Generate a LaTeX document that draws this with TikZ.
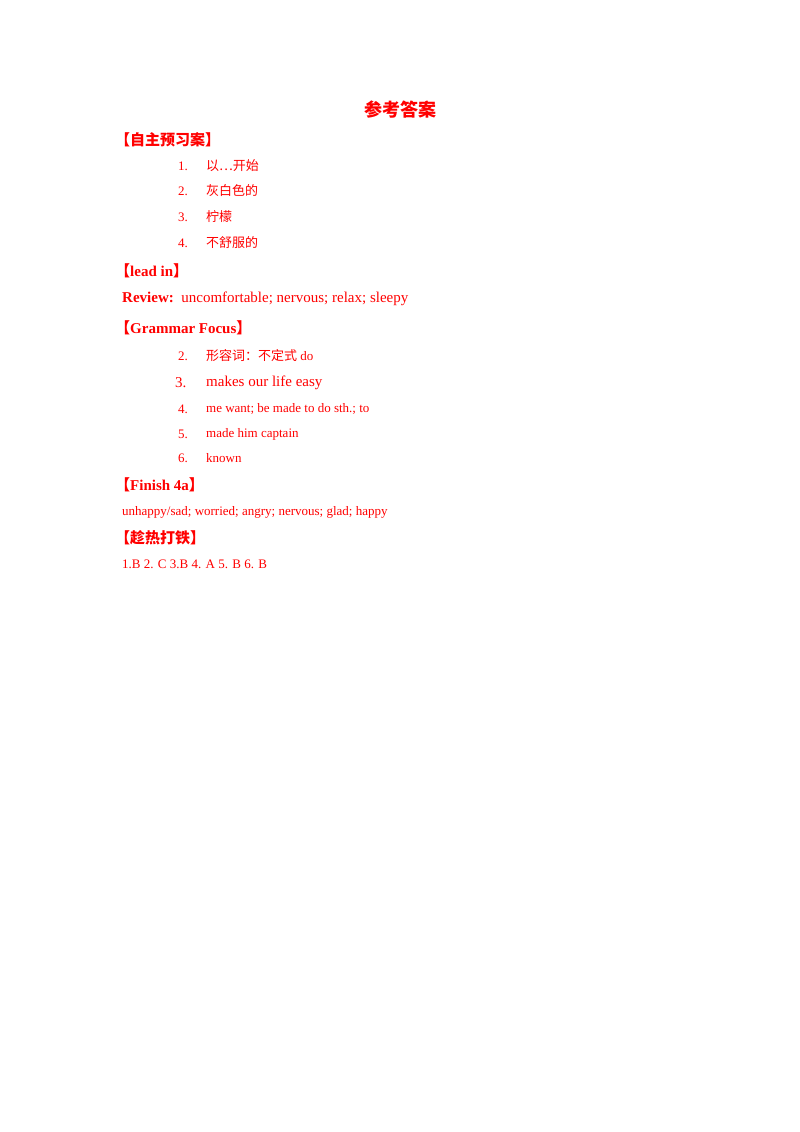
\documentclass[tikz,border=0pt]{standalone}
\usepackage{fontspec}
\setmainfont{Liberation Serif}
\newfontfamily\cjk{Noto Sans CJK SC}
\begin{document}
\begin{tikzpicture}[x=1pt,y=-1pt,
  txt/.style={anchor=west,inner sep=0pt,text=red,font=\fontsize{13}{15}\selectfont},
  hd/.style={anchor=west,inner sep=0pt,text=red,font=\fontsize{15}{17}\selectfont\bfseries}]
\useasboundingbox (0,0) rectangle (800,1132);
\node[inner sep=0pt,text=red,font=\fontsize{18}{20}\selectfont\cjk\bfseries] (title) at (400,110) {参考答案};
\node[hd] (h1) at (115,140) {{\cjk 【自主预习案】}};
\node[txt] (n1) at (178,166) {1.};
\node[txt] (t1) at (206,166) {{\cjk 以…开始}};
\node[txt] (n2) at (178,191) {2.};
\node[txt] (t2) at (206,191) {{\cjk 灰白色的}};
\node[txt] (n3) at (178,217) {3.};
\node[txt] (t3) at (206,217) {{\cjk 柠檬}};
\node[txt] (n4) at (178,243) {4.};
\node[txt] (t4) at (206,243) {{\cjk 不舒服的}};
\node[hd] (h2) at (115,271) {{\cjk 【}lead in{\cjk 】}};
\node[txt,font=\fontsize{15}{17}\selectfont] (rev) at (122,299) {\textbf{Review:}\ \ uncomfortable; nervous; relax; sleepy};
\node[hd] (h3) at (115,328) {{\cjk 【}Grammar Focus{\cjk 】}};
\node[txt] (g2) at (178,356) {2.};
\node[txt] (g2t) at (206,356) {{\cjk 形容词：不定式} do};
\node[txt,font=\fontsize{15}{17}\selectfont] (g3) at (175,383) {3.};
\node[txt,font=\fontsize{15}{17}\selectfont] (g3t) at (206,383) {makes our life easy};
\node[txt] (g4) at (178,409) {4.};
\node[txt] (g4t) at (206,409) {me want; be made to do sth.; to};
\node[txt] (g5) at (178,434) {5.};
\node[txt] (g5t) at (206,434) {made him captain};
\node[txt] (g6) at (178,458) {6.};
\node[txt] (g6t) at (206,458) {known};
\node[hd] (h4) at (115,485) {{\cjk 【}Finish 4a{\cjk 】}};
\node[txt] (f) at (122,512) {unhappy/sad; worried; angry; nervous; glad; happy};
\node[hd] (h5) at (115,538) {{\cjk 【趁热打铁】}};
\node[txt] (ans) at (122,564) {1.B 2. C 3.B 4. A 5. B 6. B};
\end{tikzpicture}
\end{document}
